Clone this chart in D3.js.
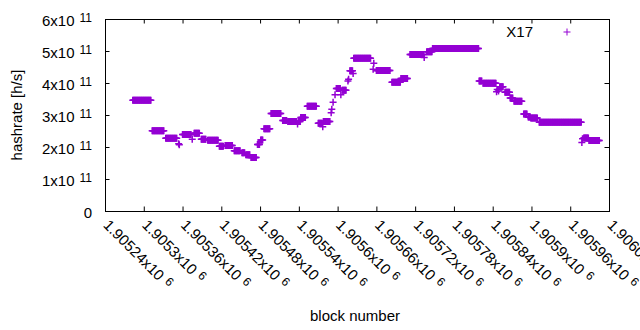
<!DOCTYPE html>
<html>
<head>
<meta charset="utf-8">
<script src="https://cdn.jsdelivr.net/npm/d3@7"></script>
<style>
body { margin: 0; background: #fff; }
text { font-family: "Liberation Sans", Arial, sans-serif; fill: #000; }
</style>
</head>
<body>
<script>
// hashrate is flat over runs of blocks: first block, last block, value
var runFirst = [1905283, 1905313, 1905334, 1905354, 1905355, 1905360, 1905375, 1905378, 1905389, 1905399,
    1905417, 1905426, 1905440, 1905452, 1905458, 1905466, 1905476, 1905481, 1905486, 1905497,
    1905515, 1905523, 1905538, 1905539, 1905543, 1905553, 1905570, 1905577, 1905578, 1905590,
    1905591, 1905593, 1905596, 1905598, 1905605, 1905607, 1905616, 1905617, 1905619, 1905624,
    1905625, 1905655, 1905656, 1905660, 1905684, 1905698, 1905712, 1905734, 1905738, 1905747,
    1905819, 1905825, 1905846, 1905847, 1905849, 1905851, 1905859, 1905867, 1905873, 1905888,
    1905895, 1905899, 1905912, 1905978, 1905979, 1905981, 1905989];
var runLast = [1905311, 1905331, 1905351, 1905354, 1905355, 1905373, 1905375, 1905386, 1905396, 1905415,
    1905423, 1905437, 1905449, 1905456, 1905464, 1905474, 1905479, 1905484, 1905495, 1905512,
    1905521, 1905536, 1905538, 1905542, 1905550, 1905567, 1905576, 1905577, 1905588, 1905590,
    1905591, 1905593, 1905596, 1905604, 1905605, 1905613, 1905616, 1905617, 1905623, 1905624,
    1905651, 1905655, 1905656, 1905681, 1905697, 1905708, 1905733, 1905734, 1905746, 1905818,
    1905823, 1905845, 1905846, 1905847, 1905849, 1905856, 1905866, 1905871, 1905885, 1905893,
    1905898, 1905909, 1905977, 1905978, 1905979, 1905988, 1906005];
var runRate = [3.46, 2.51, 2.27, 2.10, 2.07, 2.39, 2.24, 2.43, 2.24, 2.21,
    2.02, 2.05, 1.88, 1.82, 1.76, 1.67, 2.08, 2.22, 2.57, 3.05,
    2.83, 2.80, 2.72, 2.80, 2.92, 3.27, 2.74, 2.63, 2.80, 3.07,
    3.18, 3.40, 3.63, 3.83, 3.63, 3.77, 4.06, 4.12, 4.38, 4.30,
    4.77, 4.43, 4.62, 4.39, 4.02, 4.14, 4.89, 4.80, 4.98, 5.08,
    4.06, 3.99, 3.73, 3.80, 3.75, 3.88, 3.71, 3.53, 3.43, 3.03,
    2.94, 2.91, 2.77, 2.14, 2.26, 2.28, 2.20].map(function (v) { return v * 1e11; });

var xTicks = d3.range(1905240, 1906021, 60);
var yTicks = [0, 1e11, 2e11, 3e11, 4e11, 5e11, 6e11];
var seriesName = "X17";
var color = "#9400d3";

var margin = {top: 19, right: 31, bottom: 119, left: 105};
var width = 640 - margin.left - margin.right;
var height = 330 - margin.top - margin.bottom;

var svg = d3.select("body").append("svg")
    .attr("width", 640)
    .attr("height", 330);

var g = svg.append("g")
    .attr("transform", "translate(" + margin.left + "," + margin.top + ")");

var x = d3.scaleLinear().domain([1905240, 1906020]).range([0, width]);
var y = d3.scaleLinear().domain([0, 6e11]).range([height, 0]);

//expand runs to one point per block
var points = [];
runFirst.forEach(function (b, i) {
    d3.range(b, runLast[i] + 1).forEach(function (n) {
        points.push({block: n, rate: runRate[i]});
    });
});

var tick = 4.5;

//bottom axis with rotated labels
var xAxis = g.append("g")
    .attr("transform", "translate(0," + height + ")")
    .call(d3.axisBottom(x).tickValues(xTicks).tickSize(-tick).tickFormat(""));
xAxis.selectAll(".tick").append("text")
    .attr("transform", "translate(-3,15) rotate(45)")
    .attr("text-anchor", "start")
    .style("font-size", "15px")
    .each(function (d) {
        var t = d3.select(this);
        t.append("tspan").text(String(+(d / 1e6).toFixed(5)) + "x10");
        t.append("tspan").attr("dx", 5).attr("dy", -4).style("font-size", "12px").text("6");
    });

g.append("g").call(d3.axisTop(x).tickValues(xTicks).tickSize(-tick).tickFormat(""));

var yAxis = g.append("g")
    .call(d3.axisLeft(y).tickValues(yTicks).tickSize(-tick).tickFormat(""));
yAxis.selectAll(".tick").append("text")
    .attr("x", -13)
    .attr("y", 6)
    .attr("text-anchor", "end")
    .style("font-size", "15px")
    .each(function (d) {
        var t = d3.select(this);
        if (d === 0) { t.text("0"); return; }
        t.append("tspan").text(Math.round(d / 1e11) + "x10");
        t.append("tspan").attr("dx", 5).attr("dy", -4).style("font-size", "12px").text("11");
    });

g.append("g")
    .attr("transform", "translate(" + width + ",0)")
    .call(d3.axisRight(y).tickValues(yTicks).tickSize(-tick).tickFormat(""));

g.selectAll(".domain").remove();
g.selectAll(".tick line").attr("stroke", "#000");

g.append("rect")
    .attr("x", 0.5).attr("y", 0.5)
    .attr("width", width).attr("height", height)
    .attr("fill", "none")
    .attr("stroke", "#000");

//points
var cross = "M-3.5,0H3.5M0,-3.5V3.5";
g.append("g").selectAll("path")
    .data(points)
    .enter()
    .append("path")
    .attr("d", cross)
    .attr("transform", function (d) { return "translate(" + x(d.block) + "," + y(d.rate) + ")"; })
    .attr("fill", "none")
    .attr("stroke", color)
    .attr("stroke-width", 1.5);

//legend
svg.append("text")
    .attr("x", 533).attr("y", 37)
    .attr("text-anchor", "end")
    .style("font-size", "15px")
    .text(seriesName);
svg.append("path")
    .attr("d", cross)
    .attr("transform", "translate(567,32)")
    .attr("fill", "none")
    .attr("stroke", color)
    .attr("stroke-width", 1);

//axis titles
svg.append("text")
    .attr("x", 355).attr("y", 321)
    .attr("text-anchor", "middle")
    .style("font-size", "15px")
    .text("block number");
svg.append("text")
    .attr("transform", "translate(22,115) rotate(-90)")
    .attr("text-anchor", "middle")
    .style("font-size", "15px")
    .text("hashrate [h/s]");
</script>
</body>
</html>
